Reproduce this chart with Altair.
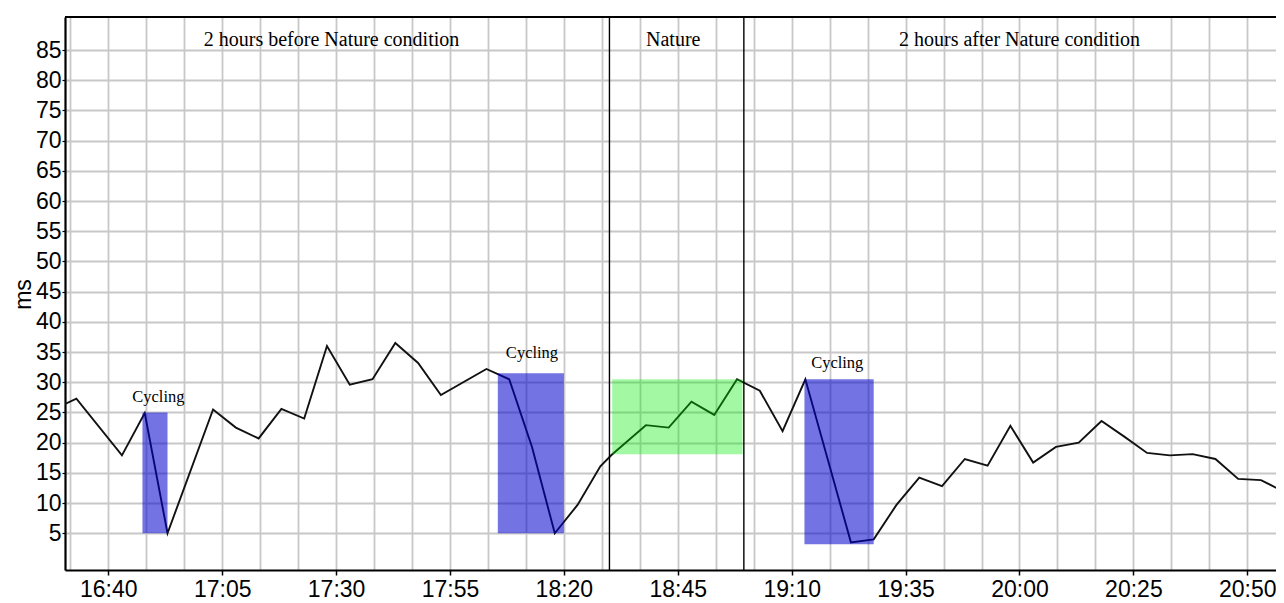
import altair as alt
import pandas as pd

# ---------------- data ----------------
times = ["16:28", "16:33", "16:43", "16:48", "16:53", "17:03", "17:08", "17:13",
         "17:18", "17:23", "17:28", "17:33", "17:38", "17:43", "17:48", "17:53",
         "18:03", "18:08", "18:13", "18:18", "18:23", "18:28", "18:30:30", "18:38",
         "18:43", "18:48", "18:53", "18:58", "19:03", "19:08", "19:13", "19:23",
         "19:28", "19:33", "19:38", "19:43", "19:48", "19:53", "19:58", "20:03",
         "20:08", "20:13", "20:18", "20:23", "20:28", "20:33", "20:38", "20:43",
         "20:48", "20:53", "20:58"]
values = [25.5, 27.3, 17.9, 24.9, 5.0, 25.5, 22.5, 20.7,
          25.6, 24.0, 36.0, 29.6, 30.5, 36.5, 33.2, 27.9,
          32.2, 30.5, 19.3, 5.0, 9.7, 16.1, 18.0, 22.9,
          22.5, 26.8, 24.6, 30.5, 28.6, 21.9, 30.5, 3.5,
          4.0, 9.7, 14.2, 12.8, 17.3, 16.2, 22.8, 16.7,
          19.3, 20.0, 23.6, 21.0, 18.3, 17.9, 18.1, 17.3,
          14.0, 13.8, 11.9]

cyc_start = ["16:47:30", "18:05:30", "19:12:48"]
cyc_end = ["16:53", "18:20", "19:28"]
cyc_top = [25.0, 31.5, 30.5]
cyc_bottom = [5.0, 5.0, 3.2]
cyc_label = ["Cycling", "Cycling", "Cycling"]
cyc_label_time = ["16:51", "18:13", "19:20"]
cyc_label_y = [27.5, 34.8, 33.2]

nature_start = ["18:30:36"]
nature_end = ["18:59:12"]
nature_top = [30.5]
nature_bottom = [18.1]

boundaries = ["18:30", "18:59:30"]

section_text = ["2 hours before Nature condition", "Nature", "2 hours after Nature condition"]
section_time = ["17:29", "18:44", "20:00"]
section_y = [86.7, 86.7, 86.7]

tick_labels = ["16:40", "17:05", "17:30", "17:55", "18:20", "18:45",
               "19:10", "19:35", "20:00", "20:25", "20:50"]
y_ticks = [5, 10, 15, 20, 25, 30, 35, 40, 45, 50, 55, 60, 65, 70, 75, 80, 85]


def tmin(s):
    parts = [float(p) for p in s.split(":")]
    h, m = parts[0], parts[1]
    sec = parts[2] if len(parts) > 2 else 0.0
    return (h - 16) * 60 + m + sec / 60.0


# ---------------- layout ----------------
W, H = 1211, 553
X_DOMAIN = [30.5, 296.3]
Y_DOMAIN = [-1.08, 90.48]

tick_pos = [tmin(s) for s in tick_labels]
step = (tick_pos[1] - tick_pos[0]) / 3.0
grid_vals = []
k = -1
while True:
    v = tick_pos[0] + k * step
    if v > X_DOMAIN[1]:
        break
    if v >= X_DOMAIN[0]:
        grid_vals.append(round(v, 4))
    k += 1

label_expr = " : ".join(
    f"abs(datum.value-{p})<0.01 ? '{l}'" for p, l in zip(tick_pos, tick_labels)
) + " : ''"
major_test = " || ".join(f"abs(datum.value-{p})<0.01" for p in tick_pos)

x_scale = alt.Scale(domain=X_DOMAIN, nice=False, zero=False)
y_scale = alt.Scale(domain=Y_DOMAIN, nice=False, zero=False)

GRID = "#c8c8c8"
x_axis = alt.Axis(
    values=grid_vals, labelExpr=label_expr, title=None,
    grid=True, gridColor=GRID, gridWidth=1.8,
    domainColor="black", domainWidth=2.2,
    tickColor="black", tickSize=5, tickWidth=1.5,
    tickOpacity={"condition": {"test": major_test, "value": 1}, "value": 0},
    labelFont="Liberation Sans", labelFontSize=23, labelColor="black",
    labelPadding=3, labelOverlap=False, labelFlush=False,
)
y_axis = alt.Axis(
    values=y_ticks, title="ms", grid=True, gridColor=GRID, gridWidth=1.8,
    domainColor="black", domainWidth=2.2,
    tickColor="black", tickSize=3, tickWidth=1.2,
    labelFont="Liberation Sans", labelFontSize=23, labelColor="black",
    labelPadding=1, labelOverlap=False, labelFlush=False,
    titleFont="Liberation Sans", titleFontSize=23, titleFontWeight="normal",
    titleColor="black", titleAngle=270, titleAlign="center",
    titleBaseline="alphabetic", titleX=-35, titleY=277,
)

line_df = pd.DataFrame({"t": [tmin(s) for s in times], "v": values})
cyc_df = pd.DataFrame({
    "t": [tmin(s) for s in cyc_start], "t2": [tmin(s) for s in cyc_end],
    "v": cyc_bottom, "v2": cyc_top,
})
cyc_txt_df = pd.DataFrame({
    "t": [tmin(s) for s in cyc_label_time], "v": cyc_label_y, "label": cyc_label,
})
nat_df = pd.DataFrame({
    "t": [tmin(s) for s in nature_start], "t2": [tmin(s) for s in nature_end],
    "v": nature_bottom, "v2": nature_top,
})
bound_df = pd.DataFrame({"t": [tmin(s) for s in boundaries]})
sec_df = pd.DataFrame({
    "t": [tmin(s) for s in section_time], "v": section_y, "label": section_text,
})

X = lambda f="t": alt.X(f"{f}:Q", scale=x_scale, axis=x_axis)
Y = lambda f="v": alt.Y(f"{f}:Q", scale=y_scale, axis=y_axis)

line = alt.Chart(line_df).mark_line(color="#111111", strokeWidth=1.9, clip=True).encode(
    x=X(), y=Y()
)
cyc_rect = alt.Chart(cyc_df).mark_rect(color="#0000cc", opacity=0.55).encode(
    x=X(), x2="t2:Q", y=Y(), y2="v2:Q"
)
nat_rect = alt.Chart(nat_df).mark_rect(color="#00ee00", opacity=0.36).encode(
    x=X(), x2="t2:Q", y=Y(), y2="v2:Q"
)
bounds = alt.Chart(bound_df).mark_rule(color="black", strokeWidth=1.4).encode(
    x=X(), y=alt.value(0), y2=alt.value(H)
)
top_border = alt.Chart(pd.DataFrame({"a": [0]})).mark_rule(
    color="black", strokeWidth=2.2
).encode(x=alt.value(0), x2=alt.value(W), y=alt.value(0))
cyc_txt = alt.Chart(cyc_txt_df).mark_text(
    font="Liberation Serif", fontSize=16.5, color="black", baseline="middle", align="center"
).encode(x=X(), y=Y(), text="label:N")
sec_txt = alt.Chart(sec_df).mark_text(
    font="Liberation Serif", fontSize=20, color="black", baseline="middle", align="center"
).encode(x=X(), y=Y(), text="label:N")

chart = alt.layer(
    line, cyc_rect, nat_rect, bounds, top_border, cyc_txt, sec_txt
).properties(
    width=W, height=H,
    autosize=alt.AutoSizeParams(type="none"),
    padding={"left": 57, "top": 9, "right": 0, "bottom": 31},
    background="white",
).configure_view(stroke=None)

chart.save("out.html", embed_options={"renderer": "svg", "actions": False})
